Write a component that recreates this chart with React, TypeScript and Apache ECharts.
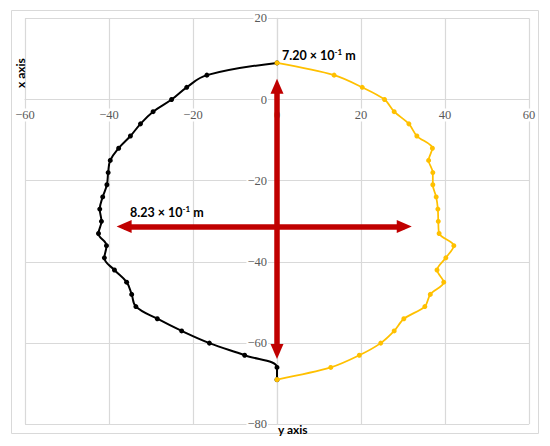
import React, { useEffect, useRef } from "react";
import * as echarts from "echarts";

// y levels (vertical axis values) shared by both profiles
const levels = [9, 6, 3, 0, -3, -6, -9, -12, -15, -18, -21, -24, -27, -30, -33, -36, -39, -42, -45, -48, -51, -54, -57, -60, -63, -66, -69];
// left profile (black) horizontal values
const leftX = [0, -16.7, -21.5, -25.1, -29.5, -32.5, -34.9, -37.7, -39.7, -40.2, -40.5, -41.5, -42.2, -41.8, -42.5, -40.6, -41.1, -38.7, -35.8, -34.6, -33.6, -28.5, -22.7, -16.1, -7.7, 0, 0];
// right profile (gold) horizontal values
const rightX = [0, 13.6, 20.3, 25.6, 27.9, 31.4, 33.3, 37.0, 36.1, 37.1, 37.1, 37.9, 38.3, 38.4, 38.6, 42.1, 40.2, 38.1, 39.7, 36.5, 35.2, 30.2, 27.9, 24.7, 19.6, 12.8, 0];

// arrows (centres of the arrow heads): [x1, y1, x2, y2]
const verticalArrow = [0, 3.25, 0, -62.05];
const horizontalArrow = [-36.4, -31.3, 30.3, -31.3];

const heightLabel = "7.20 × 10";
const widthLabel = "8.23 × 10";
const expLabel = "-1";
const xAxisName = "x axis";
const yAxisName = "y axis";

const fmt = (v: number) => (v < 0 ? "\u2212" + Math.abs(v) : String(v));

const W = 550;
const H = 446;
const G = { left: 25, right: 21, top: 18.3, bottom: 21.7 };
const X_MIN = -60, X_MAX = 60, Y_MIN = -80, Y_MAX = 20;

export default function App() {
  const ref = useRef<HTMLDivElement>(null);
  useEffect(() => {
    if (!ref.current) return;
    const chart = echarts.init(ref.current, undefined, { renderer: "svg" });
    const gridColor = "#d9d9d9";
    const plotW = W - G.left - G.right;
    const plotH = H - G.top - G.bottom;
    // offsets so the axes cross at zero
    const xAxisOffset = -plotH * ((0 - Y_MIN) / (Y_MAX - Y_MIN));
    const yAxisOffset = -plotW * ((0 - X_MIN) / (X_MAX - X_MIN));
    const labelStyle = {
      fontFamily: "'Liberation Serif', serif",
      fontSize: 12.5,
      color: "#595959",
      backgroundColor: "#fff",
      padding: [0, 1],
    };
    const annot = (x: number, y: number, main: string) => ({
      type: "text",
      left: x,
      top: y,
      z: 10,
      style: {
        text: `{a|${main}}{s|${expLabel}}{a| m}`,
        rich: {
          a: { fontFamily: "Lato", fontWeight: "bold", fontSize: 12.5, fill: "#000", lineHeight: 15 },
          s: { fontFamily: "Lato", fontWeight: "bold", fontSize: 8, fill: "#000", lineHeight: 15, verticalAlign: "top" },
        },
      },
    });
    chart.setOption({
      animation: false,
      backgroundColor: "#fff",
      grid: { ...G, outerBoundsMode: "none", containLabel: false },
      xAxis: {
        type: "value",
        min: X_MIN,
        max: X_MAX,
        interval: 20,
        position: "bottom",
        offset: xAxisOffset,
        axisLine: { show: true, onZero: false, lineStyle: { color: gridColor, width: 1.2 } },
        axisTick: { show: false },
        splitLine: { show: true, lineStyle: { color: gridColor, width: 1.2 } },
        axisLabel: { ...labelStyle, margin: 9, formatter: fmt },
      },
      yAxis: {
        type: "value",
        min: Y_MIN,
        max: Y_MAX,
        interval: 20,
        position: "left",
        offset: yAxisOffset,
        axisLine: { show: true, onZero: false, lineStyle: { color: gridColor, width: 1.2 } },
        axisTick: { show: false },
        splitLine: { show: true, lineStyle: { color: gridColor, width: 1.2 } },
        axisLabel: { ...labelStyle, margin: 9, formatter: fmt },
      },
      graphic: [
        {
          type: "rect",
          z: -1,
          shape: { x: 11.5, y: 10.5, width: 527, height: 423 },
          style: { fill: "none", stroke: "#d9d9d9", lineWidth: 1 },
        },
        annot(282, 48, heightLabel),
        annot(130, 205, widthLabel),
        {
          type: "text",
          x: 14,
          y: 88,
          rotation: Math.PI / 2,
          z: 10,
          style: { text: xAxisName, fontFamily: "Lato", fontWeight: "bold", fontSize: 12, fill: "#000", textVerticalAlign: "top" },
        },
        {
          type: "text",
          left: 278,
          top: 423,
          z: 10,
          style: { text: yAxisName, fontFamily: "Lato", fontWeight: "bold", fontSize: 12, fill: "#000" },
        },
      ],
      series: [
        {
          type: "line",
          data: levels.map((y, i) => [leftX[i], y]),
          smooth: 0.4,
          symbol: "circle",
          symbolSize: 5,
          itemStyle: { color: "#000" },
          lineStyle: { color: "#000", width: 2 },
          z: 3,
        },
        {
          type: "line",
          data: levels.map((y, i) => [rightX[i], y]),
          smooth: 0.3,
          symbol: "circle",
          symbolSize: 5,
          itemStyle: { color: "#FFC000" },
          lineStyle: { color: "#FFC000", width: 1.75 },
          z: 4,
        },
        {
          type: "line",
          data: [],
          z: 5,
          markLine: {
            silent: true,
            symbol: ["triangle", "triangle"],
            symbolSize: [13, 15],
            label: { show: false },
            lineStyle: { color: "#C00000", width: 5.5, type: "solid" },
            data: [
              [{ coord: [verticalArrow[0], verticalArrow[1]] }, { coord: [verticalArrow[2], verticalArrow[3]] }],
              [{ coord: [horizontalArrow[0], horizontalArrow[1]] }, { coord: [horizontalArrow[2], horizontalArrow[3]] }],
            ],
          },
        },
      ],
    });
    return () => chart.dispose();
  }, []);
  return (
    <div
      ref={ref}
      style={{ position: "fixed", left: 0, top: 0, width: W, height: H, background: "#fff" }}
    />
  );
}
